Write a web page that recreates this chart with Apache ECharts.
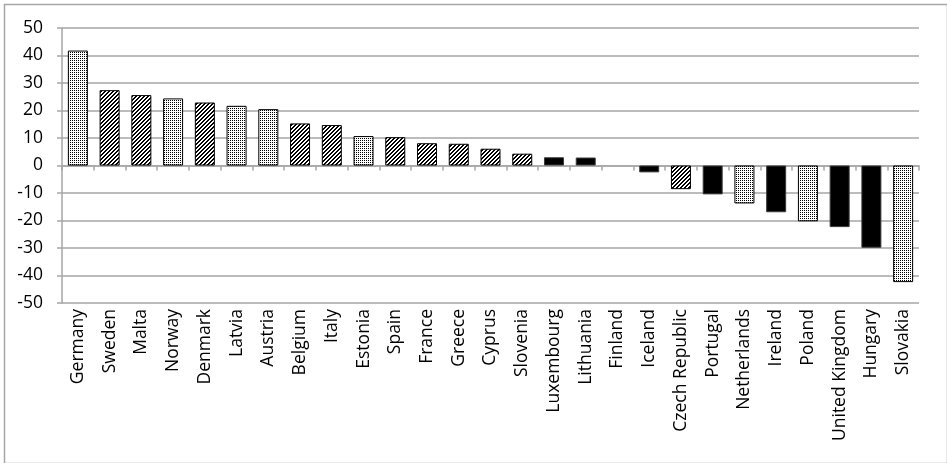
<!DOCTYPE html>
<html>
<head>
<meta charset="utf-8">
<script src="https://cdn.jsdelivr.net/npm/echarts@6/dist/echarts.min.js"></script>
<style>
html,body{margin:0;padding:0;background:#fff;}
#chart{width:947px;height:463px;}
</style>
</head>
<body>
<div id="chart"></div>
<script>
// ---- data ----
var categories = ['Germany','Sweden','Malta','Norway','Denmark','Latvia','Austria','Belgium','Italy','Estonia','Spain','France','Greece','Cyprus','Slovenia','Luxembourg','Lithuania','Finland','Iceland','Czech Republic','Portugal','Netherlands','Ireland','Poland','United Kingdom','Hungary','Slovakia'];
var values = [41.8,27.4,25.6,24.4,22.9,21.7,20.5,15.3,14.7,10.7,10.3,8.1,7.9,6.1,4.3,3.0,2.9,0,-2.5,-8.6,-10.5,-13.8,-17.0,-20.3,-22.4,-29.9,-42.4];
// group of each country (A = dotted, B = hatched, C = solid)
var groups = ['A','B','B','A','B','A','A','B','B','A','B','B','B','B','B','C','C','C','C','B','C','A','C','A','C','C','A'];
var yTicks = [-50,-40,-30,-20,-10,0,10,20,30,40,50];

// ---- patterns ----
function dotPattern(){
  var c = document.createElement('canvas'); c.width = 2; c.height = 2;
  var g = c.getContext('2d');
  g.fillStyle = '#fff'; g.fillRect(0,0,2,2);
  g.fillStyle = '#000'; g.fillRect(0,0,1,1);
  return c;
}
function hatchPattern(){
  var n = 4;
  var c = document.createElement('canvas'); c.width = n; c.height = n;
  var g = c.getContext('2d');
  g.fillStyle = '#fff'; g.fillRect(0,0,n,n);
  g.fillStyle = '#000';
  for (var x = 0; x < n; x++){
    g.fillRect(x, (n-1-x) % n, 1, 1);
    g.fillRect(x, (n-x) % n, 1, 1);
  }
  return c;
}
var fills = {
  A: {image: dotPattern(), repeat: 'repeat'},
  B: {image: hatchPattern(), repeat: 'repeat'},
  C: '#000'
};

var seriesData = values.map(function(v, i){
  return {
    value: v,
    itemStyle: {
      color: fills[groups[i]],
      borderColor: groups[i] === 'C' ? '#3a3a3a' : '#000',
      borderWidth: v === 0 ? 0 : 1
    }
  };
});

var chart = echarts.init(document.getElementById('chart'), null, {renderer: 'canvas'});
chart.setOption({
  animation: false,
  backgroundColor: '#fff',
  grid: {left: 62, right: 28, top: 28, bottom: 160, containLabel: false, outerBoundsMode: 'none'},
  graphic: [{
    type: 'rect', left: 2, top: 2, silent: true,
    shape: {x: 0, y: 0, width: 943, height: 459},
    style: {fill: 'none', stroke: '#a6a6a6', lineWidth: 1.5}
  }],
  xAxis: {
    type: 'category',
    data: categories,
    axisLine: {onZero: true, lineStyle: {color: '#a6a6a6', width: 1.5}},
    axisTick: {show: true, length: 5, lineStyle: {color: '#a6a6a6', width: 1.5}},
    axisLabel: {
      rotate: 90, interval: 0, margin: 6, hideOverlap: false,
      color: '#000', fontFamily: 'Open Sans', fontSize: 17.5
    },
    splitLine: {show: false}
  },
  yAxis: {
    type: 'value',
    min: yTicks[0], max: yTicks[yTicks.length-1], interval: 10,
    axisLine: {show: true, lineStyle: {color: '#a6a6a6', width: 1.5}},
    axisTick: {show: true, length: 5, lineStyle: {color: '#a6a6a6', width: 1.5}},
    axisLabel: {margin: 19, showMinLabel: true, showMaxLabel: true, hideOverlap: false, color: '#000', fontFamily: 'Open Sans', fontSize: 17.5},
    splitLine: {show: true, lineStyle: {color: '#a6a6a6', width: 1.5}}
  },
  series: [{
    type: 'bar',
    data: seriesData,
    barWidth: '63%'
  }]
});
</script>
</body>
</html>
